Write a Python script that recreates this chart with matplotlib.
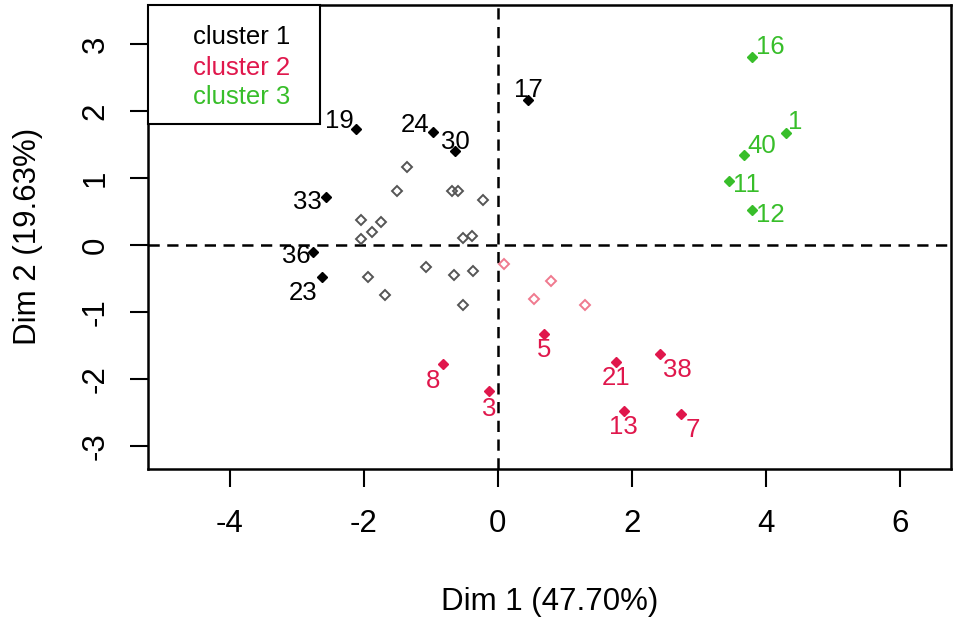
import matplotlib
matplotlib.use("Agg")
import matplotlib.pyplot as plt
from matplotlib.patches import Rectangle

plt.rcParams['font.family'] = ['Liberation Sans', 'DejaVu Sans']
plt.rcParams['axes.unicode_minus'] = False

# ---- data ----
# labelled points per cluster
c1_labels = ["19", "24", "30", "17", "33", "36", "23"]
c1_x = [-2.12, -0.96, -0.64, 0.45, -2.57, -2.75, -2.63]
c1_y = [1.73, 1.69, 1.41, 2.16, 0.72, -0.10, -0.48]

c2_labels = ["8", "3", "5", "21", "38", "13", "7"]
c2_x = [-0.81, -0.13, 0.69, 1.77, 2.42, 1.88, 2.74]
c2_y = [-1.77, -2.18, -1.32, -1.74, -1.62, -2.47, -2.52]

c3_labels = ["16", "1", "40", "11", "12"]
c3_x = [3.80, 4.30, 3.68, 3.45, 3.80]
c3_y = [2.81, 1.67, 1.34, 0.96, 0.52]

# unlabelled (faded) points
c1_faded_x = [-1.36, -1.51, -0.69, -0.59, -0.22, -2.04, -1.74, -1.87, -2.04,
              -0.52, -0.38, -1.93, -1.69, -1.07, -0.66, -0.37, -0.52]
c1_faded_y = [1.17, 0.81, 0.81, 0.81, 0.67, 0.38, 0.35, 0.20, 0.09,
              0.11, 0.14, -0.48, -0.74, -0.33, -0.44, -0.38, -0.89]
c2_faded_x = [0.10, 0.54, 0.80, 1.30]
c2_faded_y = [-0.29, -0.80, -0.53, -0.89]

legend_labels = ["cluster 1", "cluster 2", "cluster 3"]
x_label = "Dim 1 (47.70%)"
y_label = "Dim 2 (19.63%)"
x_ticks = [-4, -2, 0, 2, 4, 6]
y_ticks = [-3, -2, -1, 0, 1, 2, 3]

# ---- style ----
col1, col2, col3 = "black", "#E0174C", "#38BE2A"
faded1, faded2 = "#555555", "#F07A8E"
# label offsets in pixels (dx right, dy down)
off1 = [(-16, -8), (-18, -7), (0, -9), (0, -10), (-18, 5), (-17, 4), (-18, 16)]
off2 = [(-10, 17), (0, 18), (0, 16), (0, 16), (17, 16), (0, 16), (11, 16)]
off3 = [(18, -10), (9, -11), (17, -9), (18, 4), (18, 5)]

W, H = 957, 623
fig = plt.figure(figsize=(W / 100, H / 100), dpi=100)
L, R, T, B = 148, 950.7, 5, 469
ax = fig.add_axes([L / W, (H - B) / H, (R - L) / W, (B - T) / H])
ax.set_xlim(-5.22, 6.76)
ax.set_ylim(-3.34, 3.58)

ax.axhline(0, color="black", lw=1.8, ls=(0, (4.5, 3)), zorder=1)
ax.axvline(0, color="black", lw=1.8, ls=(0, (4.5, 3)), zorder=1)

ms = 5.3
ax.plot(c1_faded_x, c1_faded_y, ls="none", marker="D", ms=ms, mfc="none",
        mec=faded1, mew=1.4, zorder=2)
ax.plot(c2_faded_x, c2_faded_y, ls="none", marker="D", ms=ms, mfc="none",
        mec=faded2, mew=1.4, zorder=2)

for xs, ys, labs, col, offs in [(c1_x, c1_y, c1_labels, col1, off1),
                                (c2_x, c2_y, c2_labels, col2, off2),
                                (c3_x, c3_y, c3_labels, col3, off3)]:
    ax.plot(xs, ys, ls="none", marker="D", ms=ms, mfc=col, mec=col, zorder=3)
    for xv, yv, lab, (dx, dy) in zip(xs, ys, labs, offs):
        ax.annotate(lab, (xv, yv), xytext=(dx * 0.72, -dy * 0.72),
                    textcoords="offset points", ha="center", va="center",
                    fontsize=18.5, color=col, zorder=4)

ax.set_xticks(x_ticks)
ax.set_yticks(y_ticks)
ax.tick_params(axis="both", length=13, width=1.5, labelsize=22.5,
               direction="out")
ax.tick_params(axis="x", pad=16)
ax.tick_params(axis="y", pad=14, labelrotation=90)
for t in ax.get_yticklabels():
    t.set_va("center")
for s in ax.spines.values():
    s.set_linewidth(1.8)

# legend box (manual)
lw_box = (320 - L) / (R - L)
lh_box = (B - 124.3) / (B - T)
ax.add_patch(Rectangle((0, lh_box), lw_box, 1 - lh_box, transform=ax.transAxes,
                       fill=True, facecolor="white", edgecolor="black", lw=1.5,
                       zorder=5, clip_on=False))
for lab, col, py in zip(legend_labels, [col1, col2, col3], [36.7, 68, 96.7]):
    ax.text((193 - L) / (R - L), (B - py) / (B - T), lab, transform=ax.transAxes,
            ha="left", va="center", fontsize=18.5, color=col, zorder=6)

fig.text(549.3 / W, 1 - 601.7 / H, x_label, ha="center", va="center",
         fontsize=22.5)
fig.text(28 / W, 1 - 236 / H, y_label, ha="center", va="center",
         fontsize=22.5, rotation=90)

fig.savefig("out.png", dpi=100)
